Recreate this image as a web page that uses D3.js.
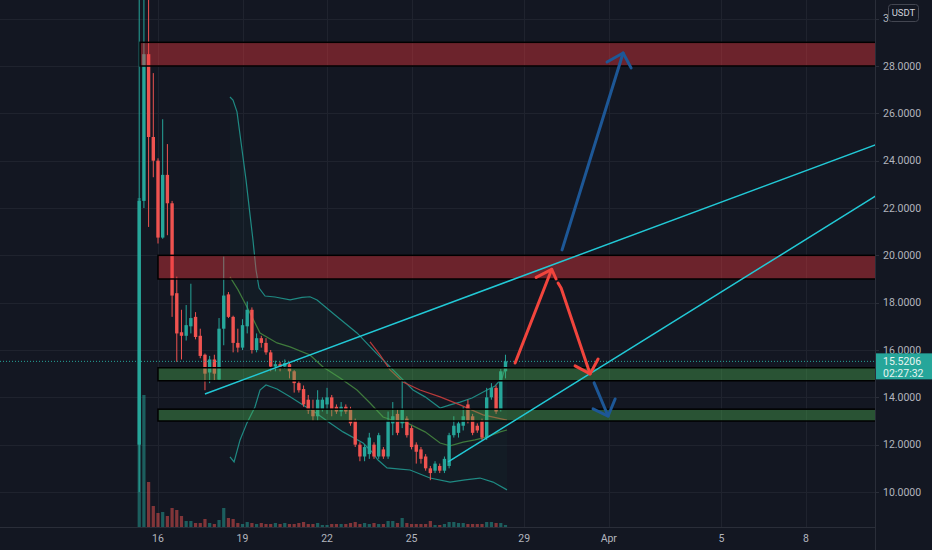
<!DOCTYPE html>
<html><head><meta charset="utf-8">
<script src="https://cdn.jsdelivr.net/npm/d3@7"></script>
<style>html,body{margin:0;padding:0;background:#131722;overflow:hidden}svg{display:block}</style>
</head><body><svg id="c" width="932" height="550"></svg>
<script>
// ---------- DATA ----------
const firstCandle = Date.UTC(2022, 2, 15, 8); // 4h candles
const opens  = [12.0,22.3,28.5,25.0,24.0,20.75,23.4,22.2,18.4,16.75,16.6,17.0,17.4,16.6,15.8,15.05,15.6,14.75,16.9,18.35,17.4,16.3,16.1,17.0,17.7,16.0,16.5,16.3,15.9,15.3,15.4,15.3,15.4,15.1,14.6,14.35,13.9,13.5,13.2,13.5,13.7,14.0,13.6,13.4,13.6,13.5,13.0,12.0,11.5,11.6,12.0,11.5,11.8,11.5,12.9,13.3,12.9,13.1,12.7,12.0,11.8,11.5,11.0,10.9,11.1,10.9,11.1,12.4,12.5,12.8,13.7,13.2,12.8,13.0,12.3,14.0,14.4,13.5,15.1];
const highs  = [60,60,45,27.7,24.1,25.75,24.7,22.3,19.1,17.7,17.9,18.8,17.6,16.9,15.85,15.75,15.8,17.35,19.95,18.45,17.45,16.9,17.3,18.05,17.8,16.7,16.6,16.5,16.0,15.55,15.5,15.6,15.5,15.15,14.7,14.5,14.1,13.9,14.3,14.0,14.4,14.1,13.7,13.8,13.7,13.6,13.1,12.1,12.0,12.5,12.1,12.5,11.9,13.4,13.8,13.5,14.7,13.2,12.8,12.1,11.9,11.6,11.1,11.3,11.2,11.5,12.5,13.2,13.0,13.6,13.9,13.3,12.9,13.1,14.4,14.6,14.5,15.2,15.8];
const lows   = [10.0,22.0,21.2,23.3,20.5,20.7,20.85,17.4,15.5,15.6,16.4,16.7,16.45,15.65,14.3,14.6,14.7,14.7,16.2,17.35,15.9,15.9,16.0,16.7,15.85,15.9,16.1,15.8,15.1,15.1,15.1,15.2,14.8,14.2,14.2,13.6,13.3,13.0,13.0,13.4,13.3,13.2,13.3,13.2,13.3,12.8,11.9,11.3,11.3,11.4,11.4,11.4,11.4,11.4,12.4,12.4,12.7,12.3,11.8,11.2,11.2,10.9,10.5,10.8,10.8,10.8,11.0,12.3,12.3,12.6,12.9,12.4,12.5,12.2,12.2,13.9,13.3,13.4,14.8];
const closes = [22.3,28.5,25.0,24.0,20.75,23.4,22.2,18.3,16.7,16.6,17.05,17.35,16.55,15.75,15.0,15.6,15.0,16.9,18.3,17.4,16.3,16.1,17.05,17.7,16.0,16.5,16.3,15.9,15.3,15.4,15.3,15.45,15.1,14.6,14.3,13.7,13.45,13.2,13.9,13.9,14.0,13.5,13.4,13.6,13.4,12.9,12.0,11.5,11.9,12.3,11.5,12.4,11.5,13.0,13.2,12.5,13.5,12.4,11.9,11.7,11.4,11.0,10.8,11.2,10.9,11.4,12.4,12.8,12.9,13.2,13.0,12.5,12.6,12.3,14.0,14.4,13.4,15.1,15.5206];
const volumes= [329,132,45,21,14,15,11,19,17,11,6,6,4,4,8,4,3,7,19,9,8,4,3,5,4,3,4,3,3,4,3,4,3,3,4,5,3,3,4,2,2,3,3,3,3,4,5,3,4,3,4,3,3,6,6,4,9,4,3,3,3,3,6,2,2,3,5,5,4,4,3,3,3,3,5,5,4,4,2];

// indicator lines: [hours after Mar 16 00:00, price]
const bbUpper = [[61.3,26.69],[63.9,26.56],[67.3,26.06],[71.6,24.45],[75.0,23.18],[78.4,21.71],[80.9,20.65],[83.5,19.38],[86.1,18.62],[91.2,18.28],[99.7,18.24],[112.5,18.12],[122.7,18.22],[129.5,18.25],[135.5,18.11],[150.8,17.48],[169.5,16.72],[184.9,15.92],[197.7,15.28],[206.2,14.86],[217.3,14.31],[227.5,14.02],[240.3,13.55],[248.8,13.68],[257.3,13.80],[267.5,13.97],[280.3,14.31],[287.1,14.48],[293.1,14.82],[297.3,15.49]];
const bbBasis = [[61.3,19.09],[68.2,18.54],[75.8,17.82],[86.9,16.72],[101.4,16.30],[112.5,16.13],[129.5,15.79],[140.6,15.28],[155.1,14.82],[169.5,14.31],[180.6,13.76],[191.7,13.17],[201.9,13.00],[212.1,12.92],[227.5,12.54],[240.3,12.07],[248.8,11.95],[259.9,12.11],[270.1,12.20],[280.3,12.33],[291.4,12.54],[297.3,12.62]];
const bbLower = [[61.3,11.48],[64.8,11.27],[69.9,12.20],[75.8,12.92],[82.6,13.59],[86.9,14.31],[92.0,14.52],[101.4,14.35],[112.5,14.02],[123.5,13.68],[134.6,13.34],[146.5,12.92],[157.6,12.54],[174.7,12.07],[182.3,11.69],[187.4,11.35],[195.1,11.02],[206.2,10.97],[214.7,10.93],[223.2,10.76],[231.7,10.59],[248.8,10.42],[261.6,10.51],[274.3,10.59],[285.4,10.42],[297.3,10.09]];
const maLine  = [[180.6,16.34],[189.1,15.79],[197.7,15.16],[208.7,14.65],[223.2,14.31],[240.3,14.02],[257.3,13.68],[276.9,13.26],[297.3,13.04]];

// drawings: zones [startHour, lowPrice, highPrice, kind]
const zones = [[-15.3,28.0,29.0,"sell"],[0,19.0,20.0,"sell"],[0,14.7,15.25,"buy"],[0,13.0,13.5,"buy"]];
const trendLines = [[[40.0,14.14],[700,26.31]],[[247.1,11.27],[700,25.24]]];
const redArrows  = [
  {path:[[304.2,15.45],[335.4,19.41]], head:[[322.1,19.07],[335.4,19.41],[339.1,19.0]]},
  {path:[[340.8,18.83],[343.4,18.62],[368.1,14.99]], head:[[355.3,15.33],[368.1,14.99],[374.9,15.62]]}
];
const blueArrows = [
  {path:[[344.2,20.23],[396.2,28.55]], head:[[382.5,28.17],[396.2,28.55],[403.0,27.92]]},
  {path:[[371.5,14.61],[383.4,13.21]], head:[[370.6,13.51],[383.4,13.21],[389.4,13.93]]}
];

const priceTicks = [10,12,14,16,18,20,22,24,26,28,30];
const timeTickDates = ["2022-03-16","2022-03-19","2022-03-22","2022-03-25","2022-03-29","2022-04-01","2022-04-05","2022-04-08"];
const timeTickLabels = ["16","19","22","25","29","Apr","5","8"];
const lastPrice = 15.5206;
const countdown = "02:27:32";
const currency = "USDT";

// ---------- CHART ----------
const W = 932, H = 550, plotR = 875, plotB = 527;
const svg = d3.select("#c");
const BG = "#131722";
const UP = "#26a69a", DN = "#ef5350";
const FONT = "Roboto, 'Noto Sans', sans-serif";

const t0 = Date.UTC(2022,2,16);
const hrs = h => new Date(t0 + h*3600e3);
const x = d3.scaleUtc().domain([new Date(Date.UTC(2022,2,16)), new Date(Date.UTC(2022,3,8))]).range([158, 806]);
const y = d3.scaleLinear().domain([10, 28]).range([492, 66]);
const yv = d3.scaleLinear().domain([0, 329]).range([plotB, 198]);

svg.append("rect").attr("width", W).attr("height", H).attr("fill", BG);

const defs = svg.append("defs");
defs.append("clipPath").attr("id","plot").append("rect").attr("x",0).attr("y",0).attr("width",plotR).attr("height",plotB);
defs.append("clipPath").attr("id","axisTop").append("rect").attr("x",876).attr("y",0).attr("width",12).attr("height",40);

const plot = svg.append("g").attr("clip-path","url(#plot)");

// grid
const gridC = "#1f232e";
plot.append("g").selectAll("line").data(priceTicks).join("line")
  .attr("x1",0).attr("x2",plotR).attr("y1",d=>Math.round(y(d))+0.5).attr("y2",d=>Math.round(y(d))+0.5)
  .attr("stroke",gridC).attr("stroke-width",1);
const tickDates = timeTickDates.map(s => new Date(s+"T00:00:00Z"));
plot.append("g").selectAll("line").data(tickDates).join("line")
  .attr("x1",d=>Math.round(x(d))+0.5).attr("x2",d=>Math.round(x(d))+0.5).attr("y1",0).attr("y2",plotB)
  .attr("stroke",gridC).attr("stroke-width",1);

// bollinger background fill
const lineGen = d3.line().x(d=>x(hrs(d[0]))).y(d=>y(d[1]));
const bandPoly = bbUpper.concat(bbLower.slice().reverse());
plot.append("path").attr("d", lineGen(bandPoly) + "Z").attr("fill","rgba(38,166,154,0.035)");

// candles data
const candles = opens.map((o,i)=>({t:new Date(firstCandle + i*4*3600e3), o, h:highs[i], l:lows[i], c:closes[i], v:volumes[i]}));

// volume
plot.append("g").selectAll("rect").data(candles).join("rect")
  .attr("x", d=>x(d.t)-1.6).attr("width",3.2)
  .attr("y", d=>yv(d.v)).attr("height", d=>plotB - yv(d.v))
  .attr("fill", d=> d.c>=d.o ? "rgba(38,166,154,0.5)" : "rgba(239,83,80,0.5)");

// indicator lines
plot.append("path").attr("d", lineGen(bbUpper)).attr("fill","none").attr("stroke","#1f8a83").attr("stroke-width",1.2);
plot.append("path").attr("d", lineGen(bbLower)).attr("fill","none").attr("stroke","#1f8a83").attr("stroke-width",1.2);
plot.append("path").attr("d", lineGen(bbBasis)).attr("fill","none").attr("stroke","#3f7a3c").attr("stroke-width",1.2);
plot.append("path").attr("d", lineGen(maLine)).attr("fill","none").attr("stroke","#b83a3a").attr("stroke-width",1.2);

// candles
const cg = plot.append("g");
cg.selectAll("line").data(candles).join("line")
  .attr("x1",d=>x(d.t)).attr("x2",d=>x(d.t)).attr("y1",d=>y(d.h)).attr("y2",d=>y(d.l))
  .attr("stroke",d=>d.c>=d.o?UP:DN).attr("stroke-width",1);
cg.selectAll("rect").data(candles).join("rect")
  .attr("x",d=>x(d.t)-1.7).attr("width",3.4)
  .attr("y",d=>y(Math.max(d.o,d.c))).attr("height",d=>Math.max(1, Math.abs(y(d.o)-y(d.c))))
  .attr("fill",d=>d.c>=d.o?UP:DN);

// last price dotted line
plot.append("line").attr("x1",0).attr("x2",plotR).attr("y1",y(lastPrice)).attr("y2",y(lastPrice))
  .attr("stroke",UP).attr("stroke-width",1).attr("stroke-dasharray","1,2");

// zones
plot.append("g").selectAll("rect").data(zones).join("rect")
  .attr("x", d=>x(hrs(d[0]))).attr("width", d=> 2000)
  .attr("y", d=>y(d[2])).attr("height", d=>y(d[1])-y(d[2]))
  .attr("fill", d=> d[3]==="sell" ? "rgba(242,54,60,0.4)" : "rgba(76,175,80,0.4)")
  .attr("stroke","#000").attr("stroke-width",1.5);

// trend lines
plot.append("g").selectAll("path").data(trendLines).join("path")
  .attr("d", d=>lineGen(d)).attr("fill","none").attr("stroke","#22c9d6").attr("stroke-width",1.5);

// arrows
function drawArrows(list, color){
  const g = plot.append("g");
  list.forEach(a=>{
    g.append("path").attr("d", lineGen(a.path)).attr("fill","none").attr("stroke",color)
      .attr("stroke-width",3).attr("stroke-linecap","round").attr("stroke-linejoin","round");
    g.append("path").attr("d", lineGen(a.head)).attr("fill","none").attr("stroke",color)
      .attr("stroke-width",3).attr("stroke-linecap","round").attr("stroke-linejoin","round");
  });
}
drawArrows(redArrows, "#f2453d");
drawArrows(blueArrows, "#1d5796");

// axis borders
svg.append("line").attr("x1",plotR+0.5).attr("x2",plotR+0.5).attr("y1",0).attr("y2",H).attr("stroke","#2a2e39");
svg.append("line").attr("x1",0).attr("x2",plotR).attr("y1",plotB+0.5).attr("y2",plotB+0.5).attr("stroke","#2a2e39");

// price axis labels (top one partly hidden behind the currency badge, as in the original)
const yAxisG = svg.append("g");
yAxisG.selectAll("line").data(priceTicks).join("line")
  .attr("x1",plotR).attr("x2",plotR+4).attr("y1",d=>Math.round(y(d))+0.5).attr("y2",d=>Math.round(y(d))+0.5)
  .attr("stroke","#2a2e39");
yAxisG.selectAll("text").data(priceTicks).join("text")
  .attr("x",883).attr("y",d=>y(d)).attr("dy","0.35em")
  .attr("clip-path", d => d === 30 ? "url(#axisTop)" : null)
  .attr("fill","#b2b5be").attr("font-family",FONT).attr("font-size",10.5)
  .text(d=>d.toFixed(4));

// time axis labels
svg.append("g").selectAll("text").data(tickDates).join("text")
  .attr("x",d=>x(d)).attr("y",542).attr("text-anchor","middle")
  .attr("fill","#b2b5be").attr("font-family",FONT).attr("font-size",10.5)
  .text((d,i)=>timeTickLabels[i]);

// currency box
svg.append("rect").attr("x",888.5).attr("y",4.5).attr("width",30).attr("height",17).attr("rx",3)
  .attr("fill",BG).attr("stroke","#434651");
svg.append("text").attr("x",903.5).attr("y",13).attr("dy","0.35em").attr("text-anchor","middle")
  .attr("fill","#d1d4dc").attr("font-family",FONT).attr("font-size",9.5).text(currency);

// last price label
svg.append("rect").attr("x",plotR+1).attr("y",y(lastPrice)-8).attr("width",57).attr("height",26).attr("fill",UP);
svg.append("text").attr("x",883).attr("y",y(lastPrice)).attr("dy","0.35em")
  .attr("fill","#e6f4f1").attr("font-family",FONT).attr("font-size",10.5).text(lastPrice.toFixed(4));
svg.append("text").attr("x",883).attr("y",y(lastPrice)+12).attr("dy","0.35em")
  .attr("fill","#e6f4f1").attr("font-family",FONT).attr("font-size",10.5).text(countdown);
</script></body></html>
